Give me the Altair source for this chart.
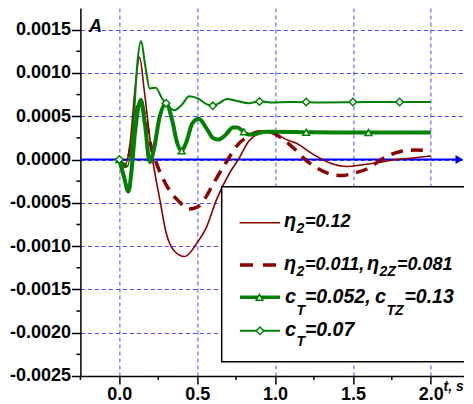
import altair as alt
import pandas as pd

# ---------------- data ----------------
# eta2 = 0.12 (thin dark-red solid)
eta_t = [0, 0.04, 0.07, 0.1, 0.13, 0.16, 0.207, 0.26, 0.3, 0.35, 0.42, 0.5, 0.56, 0.625,
         0.71, 0.764, 0.84, 0.94, 1.02, 1.075, 1.134, 1.245, 1.353, 1.46, 1.567, 1.68, 1.78, 1.9, 2.0]
eta_a = [0, -0.00005, 0.0002, 0.0008, 0.00118, 0.0008, 0.00008, -0.00046, -0.00084, -0.00105,
         -0.00112, -0.00096, -0.00078, -0.00046, -0.00015, 0.0, 0.00023, 0.000315, 0.00028,
         0.00023, 0.00019, 0.00006, -0.00004, -0.00008, -0.00006, -0.00003, 0.0, 0.00002, 0.00004]

# eta2 = 0.011, eta2Z = 0.081 (thick dark-red dashed)
etaz_t = [0, 0.04, 0.08, 0.13, 0.17, 0.2, 0.24, 0.28, 0.32, 0.38, 0.45, 0.5, 0.55, 0.6, 0.68,
          0.76, 0.82, 0.9, 0.96, 1.04, 1.12, 1.2, 1.28, 1.36, 1.43, 1.5, 1.6, 1.7, 1.8, 1.9, 2.0]
etaz_a = [0, -0.00008, 0.0002, 0.00068, 0.00045, 0.00018, -0.00005, -0.00022, -0.00035, -0.00048,
          -0.00057, -0.00055, -0.00045, -0.00029, -0.00005, 0.00017, 0.00026, 0.00032, 0.00032,
          0.00025, 0.00013, -0.00001, -0.00011, -0.00017, -0.000185, -0.00016, -0.0001, 0.00002,
          0.00009, 0.00011, 0.0001]

# cT = 0.052, cTZ = 0.13 (thick green, triangles)
ctz_t = [0, 0.03, 0.058, 0.08, 0.1, 0.138, 0.165, 0.196, 0.22, 0.26, 0.3, 0.34, 0.37, 0.4, 0.43,
         0.47, 0.51, 0.56, 0.6, 0.632, 0.68, 0.73, 0.76, 0.79, 0.83, 0.866, 0.9, 0.95, 1.0, 1.2,
         1.4, 1.6, 1.8, 2.0]
ctz_a = [0, -0.0002, -0.00037, -0.0001, 0.0003, 0.00069, 0.0004, -0.00003, 0.0001, 0.0005, 0.00065,
         0.00045, 0.0002, 0.0001, 0.0002, 0.00042, 0.00047, 0.00036, 0.00025, 0.00023, 0.00028,
         0.00037, 0.00037, 0.00033, 0.00029, 0.00029, 0.00031, 0.00032, 0.00032, 0.000315,
         0.000312, 0.000312, 0.000312, 0.000312]
ctz_mark_t = [0, 0.4, 0.8, 1.2, 1.6]
ctz_mark_a = [0, 0.0001, 0.00032, 0.000315, 0.000312]

# cT = 0.07 (thin green, diamonds)
ct_t = [0, 0.05, 0.09, 0.115, 0.14, 0.165, 0.196, 0.234, 0.27, 0.3, 0.355, 0.4, 0.45, 0.51, 0.56,
        0.6, 0.64, 0.69, 0.75, 0.83, 0.9, 0.97, 1.1, 1.3, 1.6, 2.0]
ct_a = [0, -0.00008, 0.0004, 0.0011, 0.00137, 0.0011, 0.00082, 0.00083, 0.00072, 0.00064, 0.00057,
        0.00063, 0.00073, 0.0007, 0.00064, 0.00062, 0.00065, 0.0007, 0.00068, 0.00065, 0.000672,
        0.00066, 0.000665, 0.00066, 0.000665, 0.000665]
ct_mark_t = [0, 0.3, 0.6, 0.9, 1.2, 1.5, 1.8]
ct_mark_a = [0, 0.00065, 0.00062, 0.00067, 0.000665, 0.000665, 0.000665]

x_major = [0, 0.5, 1.0, 1.5, 2.0]
x_minor = [-0.25, 0.25, 0.75, 1.25, 1.75]
y_major = [-0.0025, -0.002, -0.0015, -0.001, -0.0005, 0.0, 0.0005, 0.001, 0.0015]
y_minor = [-0.00225, -0.00175, -0.00125, -0.00075, -0.00025, 0.00025, 0.00075, 0.00125]

legend_labels = ["η2=0.12", "η2=0.011, η2Z=0.081", "cT=0.052, cTZ=0.13", "cT=0.07"]

# ---------------- layout / style ----------------
W, H = 384, 368
X_DOM = [-0.25, 2.216]
Y_DOM = [-0.0025, 0.00175]
RED = "#8b0000"
GREEN = "#008000"
BLUE = "#0000ff"
FONT = "Liberation Sans"
OX, OY = 80.4, 8  # page position of plot origin

xs = alt.Scale(domain=X_DOM, nice=False, zero=False)
ys = alt.Scale(domain=Y_DOM, nice=False, zero=False)

x_axis = alt.Axis(values=x_major, format=".1f", tickSize=8, labelPadding=2, grid=True,
                  title=None, labelFlush=False)
y_axis = alt.Axis(values=y_major, tickSize=9, labelPadding=1, grid=True, title=None,
                  labelFlush=False,
                  labelExpr="replace(format(datum.value, '.4f'), '\u2212', '-')")


def X():
    return alt.X("t:Q", scale=xs, axis=x_axis)


def Y():
    return alt.Y("A:Q", scale=ys, axis=y_axis)


def df(t, a):
    return pd.DataFrame({"t": t, "A": a})


one = pd.DataFrame({"d": [0]})
layers = []

# zero line with arrow
zero = pd.DataFrame({"A": [0.0]})
layers.append(alt.Chart(zero).mark_rule(color=BLUE, strokeWidth=2).encode(
    y=Y(), x=alt.value(0), x2=alt.value(W - 6)))
layers.append(alt.Chart(zero).mark_point(shape="triangle-right", filled=True, color=BLUE,
                                         opacity=1, size=80).encode(y=Y(), x=alt.value(W - 5)))

# curves
layers.append(alt.Chart(df(eta_t, eta_a)).mark_line(color=RED, strokeWidth=1.6,
                                                    interpolate="monotone").encode(x=X(), y=Y()))
layers.append(alt.Chart(df(etaz_t, etaz_a)).mark_line(color=RED, strokeWidth=3.5, strokeDash=[12, 8],
                                                      interpolate="monotone").encode(x=X(), y=Y()))
layers.append(alt.Chart(df(ctz_t, ctz_a)).mark_line(color=GREEN, strokeWidth=4,
                                                    interpolate="monotone").encode(x=X(), y=Y()))
layers.append(alt.Chart(df(ct_t, ct_a)).mark_line(color=GREEN, strokeWidth=2,
                                                  interpolate="monotone").encode(x=X(), y=Y()))
layers.append(alt.Chart(df(ctz_mark_t, ctz_mark_a)).mark_point(
    shape="triangle-up", filled=False, fill="white", fillOpacity=1, color=GREEN, strokeWidth=1.5,
    opacity=1, size=45).encode(x=X(), y=Y()))
layers.append(alt.Chart(df(ct_mark_t, ct_mark_a)).mark_point(
    shape="diamond", filled=False, fill="white", fillOpacity=1, color=GREEN, strokeWidth=1.5,
    opacity=1, size=55).encode(x=X(), y=Y()))

# minor ticks
layers.append(alt.Chart(pd.DataFrame({"A": y_minor})).mark_rule(color="black", strokeWidth=1.5).encode(
    y=Y(), x=alt.value(-4), x2=alt.value(0)))
layers.append(alt.Chart(pd.DataFrame({"t": x_minor})).mark_rule(color="black", strokeWidth=1.5).encode(
    x=X(), y=alt.value(H), y2=alt.value(H + 4)))

# legend box
layers.append(alt.Chart(one).mark_rect(fill="white", stroke="black", strokeWidth=1.5).encode(
    x=alt.value(221.7 - OX), x2=alt.value(W + 20), y=alt.value(186.7 - OY), y2=alt.value(361.7 - OY)))

# legend samples
leg_y = [222.7, 265, 297.3, 330.7]
layers.append(alt.Chart(one).mark_rule(color=RED, strokeWidth=1.6).encode(
    x=alt.value(239.5 - OX), x2=alt.value(280 - OX), y=alt.value(leg_y[0] - OY)))
layers.append(alt.Chart(one).mark_rule(color=RED, strokeWidth=3.5, strokeDash=[13, 10]).encode(
    x=alt.value(240 - OX), x2=alt.value(276 - OX), y=alt.value(leg_y[1] - OY)))
layers.append(alt.Chart(one).mark_rule(color=GREEN, strokeWidth=3.5).encode(
    x=alt.value(240 - OX), x2=alt.value(280 - OX), y=alt.value(leg_y[2] - OY)))
layers.append(alt.Chart(one).mark_point(shape="triangle-up", filled=False, fill="white", fillOpacity=1,
                                        color=GREEN, strokeWidth=1.5, opacity=1, size=45).encode(
    x=alt.value(259.5 - OX), y=alt.value(leg_y[2] - OY)))
layers.append(alt.Chart(one).mark_rule(color=GREEN, strokeWidth=2).encode(
    x=alt.value(240 - OX), x2=alt.value(280 - OX), y=alt.value(leg_y[3] - OY)))
layers.append(alt.Chart(one).mark_point(shape="diamond", filled=False, fill="white", fillOpacity=1,
                                        color=GREEN, strokeWidth=1.5, opacity=1, size=55).encode(
    x=alt.value(260 - OX), y=alt.value(leg_y[3] - OY)))

# legend text, split into main text and subscripts
segments = [
    ("η", 284, 227.5, 20), ("2", 296.5, 233.5, 14), ("=0.12", 305, 227.5, 18),
    ("η", 284, 270, 20), ("2", 296.5, 276, 14), ("=0.011,", 305, 270, 18),
    ("η", 367, 270, 20), ("2Z", 379.5, 276, 14), ("=0.081", 397, 270, 18),
    ("c", 285, 303, 20), ("T", 296.5, 315, 14), ("=0.052,", 305, 303, 19.5),
    ("c", 375, 303, 20), ("TZ", 386.5, 315, 14), ("=0.13", 404.5, 303, 19.5),
    ("c", 285, 336, 20), ("T", 296.5, 346, 14), ("=0.07", 305, 336, 19.5),
    ("A", 89, 31.7, 18), ("t, s", 443.5, 391, 14),
]
for txt, px, py, fs in segments:
    layers.append(alt.Chart(one).mark_text(
        text=txt, align="left", baseline="alphabetic", font=FONT, fontStyle="italic",
        fontWeight="bold", fontSize=fs, color="black").encode(
        x=alt.value(px - OX), y=alt.value(py - OY)))

chart = alt.layer(*layers).properties(
    width=W, height=H, autosize="none",
    padding={"left": 72.4, "top": 0, "right": 0, "bottom": 28},
).configure_view(stroke=None).configure_axis(
    domainColor="black", domainWidth=1.5, tickColor="black", tickWidth=1.5,
    labelFont=FONT, labelFontSize=18, labelFontWeight="bold", labelColor="black",
    gridColor="#2a2aff", gridDash=[4, 3], gridWidth=1, gridOpacity=0.85,
)

chart.save("out.html", embed_options={"renderer": "svg", "actions": False})
